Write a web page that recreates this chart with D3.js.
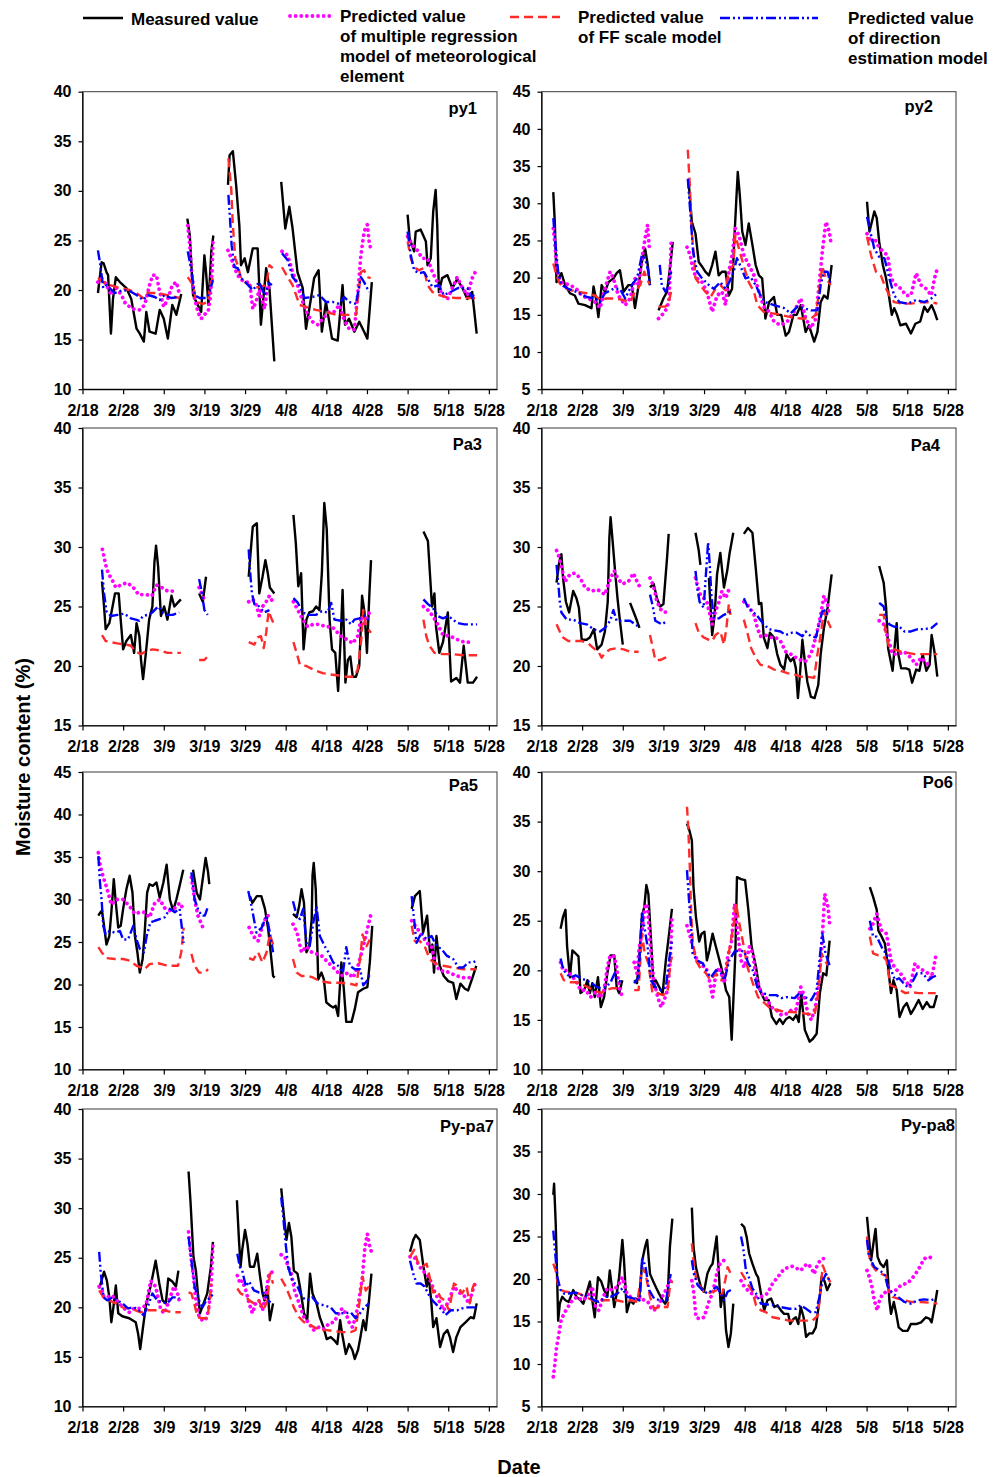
<!DOCTYPE html>
<html>
<head>
<meta charset="utf-8">
<title>Moisture content</title>
<script src="https://cdn.jsdelivr.net/npm/d3@7"></script>
<style>
  body { margin: 0; background: #fff; }
  svg text { font-family: Arial, "Liberation Sans", sans-serif; font-weight: bold; fill: #000; }
</style>
</head>
<body>
<div id="chart"></div>
<script>

// ---- data: [day after 2/18, moisture %], null = gap ----

const tickLabels = ["2/18", "2/28", "3/9", "3/19", "3/29", "4/8", "4/18", "4/28", "5/8", "5/18", "5/28"];
const panelNames = ["py1", "py2", "Pa3", "Pa4", "Pa5", "Po6", "Py-pa7", "Py-pa8"];
const yDomains = [[10, 40], [5, 45], [15, 40], [15, 40], [10, 45], [10, 40], [10, 40], [5, 40]];
const legendLabels = [
  ["Measured value"],
  ["Predicted value", "of multiple regression", "model of meteorological", "element"],
  ["Predicted value", "of FF scale model"],
  ["Predicted value", "of direction", "estimation model"]
];

const py1Measured = [[3.8,19.7],[4.7,22.8],[5.2,22.7],[5.9,21.8],[6.3,21.5],[7,15.6],[7.5,19.1],[8.2,21.3],[9.2,20.8],[10.8,20.2],[12,19.1],[13.3,16.1],[14.1,15.6],[15.1,14.8],[15.7,17.8],[16.5,15.8],[18,15.6],[19,18],[20,17.1],[21,15.1],[22.1,18.5],[23.1,17.5],[24.3,19.6], null, [25.8,27.2],[26.4,25.5],[27.2,19.5],[28,18.8],[29.2,17.8],[30,23.5],[30.4,21.8],[31,18.5],[31.7,23.9],[32.2,25.5], null, [35.8,30.6],[36.2,33.6],[37,34],[37.8,30.6],[38.6,26.5],[39,22.5],[39.9,23.2],[40.7,21.8],[41.9,24.2],[43.1,24.2],[43.9,16.5],[45.2,22.2],[46,20.2],[47.2,12.8], null, [48.9,30.9],[49.9,26.2],[50.9,28.4],[51.7,26.2],[52.9,21.8],[54.2,20.2],[55,16.1],[56.2,19.1],[57,21.2],[58.1,22],[58.9,15.8],[59.9,18.8],[61.4,15.1],[62.8,14.9],[64,20.5],[64.6,16.5],[65.6,17.1],[66.9,15.8],[68.1,16.8],[69.3,15.8],[70.1,15.1],[71.2,20.8], null, [80,27.6],[80.5,25.2],[81.6,23.9],[82,25.9],[83.2,26.1],[84.5,24.9],[84.9,22.5],[85.7,23.2],[86.3,27.9],[86.9,30.1],[87.3,26.5],[87.7,19.8],[88.5,21.2],[89.8,21.5],[91,20.2],[92.2,21.1],[93.5,20.2],[94.7,19.1],[95.9,19.8],[97,15.6]];
const py1Regression = [[3.8,20.8],[4.7,21.2],[5.9,20.5],[7.1,19.5],[8.3,20.2],[9.6,19.5],[10.6,18.6],[12.4,18.1],[14.1,18],[15.3,18.5],[16.5,20.5],[17.3,21.5],[18.2,21.5],[19,19.8],[20,18.3],[21,19.1],[22.1,20.5],[23.1,20.8],[23.9,19.5], null, [25.9,26.5],[26.4,24.5],[26.8,22],[27.6,19.1],[28.4,17.8],[29.2,17.1],[30.2,17.6],[30.9,17.8],[31.4,19.1],[31.9,22],[32.1,24.9], null, [35.8,24],[36.6,23.2],[37.4,22.2],[38.6,21.2],[39.9,20.8],[41.1,20.8],[41.9,18.1],[42.7,18.8],[43.5,20],[44.8,18.1],[45.6,20.5],[46,20], null, [49.1,23.9],[50.5,23.5],[51.7,21.8],[52.9,20.5],[54.2,18.8],[55.4,17.5],[56.6,16.8],[57.9,16.5],[59.1,17.1],[60.7,17.8],[61.9,17.8],[63.2,18.5],[64.4,17],[65.6,16.1],[66.9,16],[67.7,19.5],[68.5,23.5],[69.3,25.9],[70.1,26.6],[70.5,25],[70.9,24.2], null, [80,25.4],[81.2,24.5],[82.4,24],[83.6,23.2],[84.9,23.2],[86.1,21.8],[87.3,20.8],[88.5,19.5],[89.8,19.1],[91,20.2],[92.2,21.3],[93.5,20.2],[94.7,19.5],[95.9,21.2],[96.9,22]];
const py1FF = [[3.8,21.2],[5.1,20.8],[6.7,20.5],[9.2,20.2],[11.6,20],[13.3,19.7],[14.9,19.2],[15.7,19.7],[18.2,19.7],[20.6,19.5],[23.9,19.2], null, [25.9,21.3],[27.2,20.5],[28,18.8],[29.6,18.6],[30.9,18.8],[31.4,20.5],[32.1,21.2], null, [35.9,33.3],[36.6,30.2],[37,26.5],[37.6,23.2],[38.2,22.5],[39,21.2],[40.3,20.7],[41.9,20.2],[43.5,20.3],[45.2,20.5],[46,22.5],[46.8,22.2], null, [49.1,22.3],[50.5,21.3],[51.7,20.5],[53.4,18.5],[55,18.3],[57.4,18],[59.9,17.8],[62.4,17.5],[64.8,17.5],[67.3,17.5],[68.5,21.8],[69.3,22],[70.1,21.3],[70.9,21.2], null, [80,24.9],[80.8,23.2],[81.6,22.3],[82.8,22],[84,22.2],[84.9,20.5],[86.1,19.8],[87.7,19.5],[89.3,19.3],[91.8,19.2],[94.3,19.2],[97,19.2]];
const py1Direction = [[3.8,24],[4.4,22.5],[5.1,20.2],[5.9,20.5],[6.7,20.2],[7.9,19.7],[10,20],[11.6,19.9],[13.3,19.5],[14.9,19],[16.1,19.5],[17.8,19.3],[19,19],[20.2,19.5],[21.8,19.2],[23.9,19.3], null, [25.9,23.9],[26.8,22],[27.6,19.5],[28.8,19.2],[30.4,19.2],[31.3,19.8],[32.1,21], null, [35.9,29.6],[36.3,27.2],[36.7,24.5],[37.4,22.3],[38.2,22.2],[39,21.2],[40.3,20.7],[41.9,20],[43.5,20.8],[44.8,19.5],[46,20.7],[46.6,20.5], null, [49.1,23.7],[50.5,23],[51.7,21.3],[53.4,20.5],[54.6,19.2],[56.6,19.3],[58.3,19.5],[59.9,18.8],[61.5,18.8],[63.2,18.6],[64.4,19.3],[65.6,18.8],[67.3,18.6],[68.5,21.3],[69.3,20.8],[70.5,19.8], null, [80,25.9],[80.8,23.5],[81.6,22],[82.8,21.7],[84,21.8],[84.9,21.2],[86.1,20.3],[87.7,20.5],[88.9,19.5],[90.6,19.8],[92.4,20.2],[94.7,20.2],[95.9,19.2],[96.3,19.6]];

const py2Measured = [[2.9,31.5],[3.3,27.1],[3.7,19.4],[4.4,20.1],[4.9,20.6],[5.8,19],[7,17.9],[8.2,17.6],[9.1,16.5],[10.7,16.3],[12.3,15.9],[12.8,18.8],[13.4,17.2],[14,14.7],[14.8,19],[15.6,18.1],[16.5,19.4],[17.7,19.9],[18.5,20.6],[19.3,21],[20.2,18.1],[21.4,19],[22.2,19],[23,15.9],[23.9,19],[24.7,22.1],[25.5,23.9],[26.1,21.9],[26.7,19], null, [28.8,15.6],[30,17.2],[30.9,18.1],[31.7,21.7],[32.3,24.8], null, [36.2,32.9],[36.6,30.2],[37,27.5],[37.9,25.9],[38.7,22.1],[39.5,21.5],[40.3,20.8],[41.2,20.3],[42,21.7],[42.8,23.5],[43.6,20.3],[44.4,20.8],[45.3,20.8],[46.1,17.6],[46.9,18.5],[47.5,25.7],[48,31.1],[48.3,34.2],[48.8,31.1],[49.4,26.2],[50.2,24.4],[51,27.3],[51.9,24.4],[52.7,21.7],[53.5,20.3],[54.3,19.9],[55.1,14.5],[56,16.7],[57.2,17.4],[58,15],[59,15],[60.1,12.2],[60.9,12.7],[62,15],[62.8,15],[63.8,16.3],[65,12.7],[65.8,13.6],[67.1,11.4],[67.9,12.7],[68.7,16.7],[69.5,17.6],[70.4,17.2],[71.4,21.7], null, [80.1,30.2],[80.7,26.2],[81.2,27.3],[81.9,28.9],[82.5,28],[83.1,24.8],[84,21.7],[84.8,19.9],[85.6,17.2],[86.2,15],[86.8,15.9],[87.5,15],[88.3,13.6],[89.7,13.8],[90.9,12.5],[92,13.8],[93.2,14.1],[94.2,16.1],[95,15.4],[96,16.3],[96.7,15.4],[97.4,14.3]];
const py2Regression = [[2.9,26.6],[3.3,24.6],[3.7,21.7],[4.5,19.4],[5.8,19.2],[7,19],[8.6,18.5],[9.9,17.6],[11.5,17.2],[13.2,16.7],[14.4,15.9],[15.6,18.5],[16.9,20.8],[17.7,19.9],[18.9,17.6],[20.6,16.3],[21.8,17.2],[23,19.9],[23.9,19],[24.7,22.6],[25.5,25.3],[26.1,27.1],[26.6,23.5], null, [28.8,14.5],[30,15.2],[30.9,15.9],[31.4,17.2],[31.9,24.8], null, [35.8,24.1],[36.6,23],[37.4,20.8],[38.3,19.9],[39.5,19.4],[40.7,18.1],[42,15.4],[43.2,17.6],[44.4,18.1],[45.3,16.3],[46.1,20.8],[46.9,23],[47.7,26.6],[48.6,25.7],[49.8,23],[51,21.7],[52.3,20.3],[53.5,18.1],[54.7,16.1],[56,15.4],[57.2,14.1],[58.8,13.6],[60.5,14.1],[62.1,15.4],[63.8,17.2],[65,14.5],[66.3,13.2],[67.5,14.5],[68.3,19],[69.1,23.5],[70,27.5],[70.8,26.2],[71.2,24.8], null, [80.1,25.9],[81.1,24.8],[81.9,25.3],[82.7,24.4],[84,23.5],[85.2,23],[86,19.9],[87.2,19],[88.5,18.5],[89.7,17.6],[90.9,17.6],[92.2,20.6],[93.4,19],[94.7,18.5],[95.9,17.6],[96.7,19.9],[97.4,21.2]];
const py2FF = [[2.9,21.9],[3.7,20.3],[4.5,19.2],[6.2,18.5],[8.6,18.1],[11.1,17.9],[13.2,17.6],[14.4,17],[16,17.2],[17.7,17.2],[20.2,17],[21.8,16.7],[23,18.1],[24.3,19],[25.3,20.8],[25.9,19.9],[26.7,19], null, [28.8,16.1],[30.5,16.1],[31.3,16.7],[31.9,18.1], null, [36,37.2],[36.5,32.4],[36.9,26.6],[37.4,23.5],[37.9,19.9],[39.1,19],[40.3,18.1],[41.6,17.4],[42.8,18.5],[44,19],[45.3,18.3],[46.1,20.8],[47.2,21.7],[47.7,25.7],[48.6,23.9],[49.8,21.5],[51,19.4],[52.3,18.1],[53.1,16.3],[54.7,15.4],[56.8,15.2],[58.8,15],[61.3,14.7],[63.8,14.5],[66.3,14.5],[67.5,15],[68.3,18.1],[69.1,21.5],[70,19.9],[71.2,19], null, [80.1,25.5],[81.1,23],[82.3,20.8],[83.5,20.3],[84.4,19],[85.6,17.6],[86.8,16.7],[88.9,16.5],[90.9,16.5],[93.4,16.7],[95.9,16.7],[97.4,16.5]];
const py2Direction = [[2.9,28],[3.3,25.3],[4.1,20.8],[4.9,19],[6.6,18.5],[8.6,18.1],[11.1,17.4],[13.2,17.2],[14.4,16.7],[15.6,17.9],[17.7,18.5],[19.3,18.5],[20.6,17.2],[22.2,19],[23.5,19.9],[24.7,23],[25.5,22.6],[26.3,20.8],[26.7,19], null, [29.1,21.7],[29.6,19],[30.5,18.1],[31.3,19],[31.9,20.8], null, [36,33.3],[36.6,28.9],[37.3,23.5],[38.3,20.8],[39.5,19.9],[41.2,19],[42.4,18.5],[44,19.4],[45.3,18.5],[46.5,19.7],[47.3,20.8],[48.1,22.6],[49,21.5],[50.2,19.9],[51.4,20.1],[52.7,19],[53.9,17.6],[55.1,16.7],[57.2,16.3],[59.7,15.9],[61.3,15.2],[63,16.1],[64.6,15.9],[66.3,15.6],[67.9,15.6],[68.7,19],[69.5,20.8],[70.4,20.8],[71.2,19], null, [80.1,28.2],[80.9,26.2],[81.9,23.9],[83.1,22.8],[84.4,22.6],[85.6,19.9],[86.8,17.6],[88.1,16.7],[90.1,16.5],[92.2,17],[94.2,16.7],[95.9,17.2],[97.4,17.9]];

const pa3Measured = [[4.8,27.1],[5.3,25],[5.7,23.1],[6.6,23.6],[7.4,25],[8,26.1],[8.9,26.1],[9.4,23.9],[10,21.4],[10.8,22.1],[11.9,22.6],[12.7,21.1],[13.3,23.6],[14,22.5],[14.4,20.5],[14.9,18.9],[15.6,21.1],[16.4,23.9],[17.2,25],[17.7,28.7],[18.1,30.1],[18.6,28.4],[19.3,24.2],[20.1,25],[20.9,23.9],[21.9,25.9],[22.6,25],[23.4,25.3],[24.2,25.6], null, [28.7,26.1],[29.6,25.4],[30.4,27.5], null, [40.9,27.5],[41.5,30.1],[41.9,31.7],[42.9,32],[43.5,26.1],[44.3,27.5],[45,28.9],[45.6,27.8],[46.1,26.6],[47.2,26.1], null, [51.9,32.7],[52.5,30.3],[53.1,26.7],[53.8,27.8],[54.4,21.4],[55.1,23.9],[55.8,24.5],[56.7,24.6],[57.5,25],[58.3,24.7],[58.9,27.8],[59.5,33.7],[60.1,31.5],[60.8,23.9],[61.4,21.4],[62.2,21.1],[62.9,17.9],[63.6,22.8],[64,26.4],[64.7,18.6],[65.3,20.5],[65.9,20.8],[66.5,19.1],[67.3,19.1],[68.1,20],[68.8,25.9],[69.4,24.5],[70,21.1],[70.6,26.1],[71,28.9], null, [83.9,31.3],[85,30.5],[86,25],[86.6,26.1],[87,23.3],[87.8,21.1],[88.7,22],[89.9,24.5],[90.7,18.7],[92,19],[92.9,18.6],[93.8,21.7],[94.8,18.6],[96.1,18.6],[97.1,19.1]];
const pa3Regression = [[4.9,29.8],[5.3,29.2],[5.7,28.5],[6.3,27.8],[7.2,27.3],[8.2,26.6],[9.4,26.8],[10.8,27],[12.3,26.7],[13.8,26],[15.6,26],[17.1,25.9],[18.2,26.8],[19.5,26.6],[20.9,26.3],[22.2,26.3], null, [28.7,26.6],[29.6,25.9],[30.1,25.3], null, [40.9,25.4],[41.9,25.6],[42.7,25.2],[43.5,24.2],[44.3,25],[45.2,25.4],[46,25.9],[46.8,25.4], null, [51.9,25.4],[53,24.7],[54.2,23.9],[55.4,23.3],[56.7,23.5],[58.3,23.5],[59.9,23.3],[61.4,23.3],[62.8,22.8],[64,22.4],[65.3,22.2],[66.5,21.9],[67.7,22.5],[68.6,24.2],[69.4,23.6],[70.6,24.5], null, [83.9,25],[85,24.7],[86.2,24.2],[87.4,23.5],[88.7,22.6],[90.5,22.5],[92.4,22.2],[94,22],[96.1,22]];
const pa3FF = [[4.8,22.6],[5.7,22.1],[7,22],[8.6,21.9],[10.7,21.8],[11.9,21.7],[13.1,21.2],[14.4,21],[15.4,21.2],[17.2,21.4],[19.3,21.3],[20.9,21.1],[23,21.1],[24.2,21.1], null, [28.7,20.5],[30,20.5],[30.8,20.8], null, [40.9,22],[42.3,21.8],[43.1,22.4],[43.9,22.5],[44.6,21.5],[45.2,22.8],[45.8,24.6],[46.6,23.9],[47,23.6], null, [51.9,22],[52.7,21.1],[53.5,20.1],[55.1,20],[56.2,19.8],[57.5,19.6],[59.1,19.4],[60.8,19.3],[63.2,19.2],[64.9,19.1],[66.9,19.1],[67.7,19.7],[68.6,22.2],[69.1,24.7],[69.8,23.3],[71,22.8], null, [83.9,23.9],[84.6,22.5],[85.4,21.7],[86.6,21.1],[88.7,21],[91.1,21],[93.6,20.9],[97.1,20.9]];
const pa3Direction = [[4.8,28.1],[5.3,26.1],[5.9,24.6],[7,24.2],[8.6,24.3],[10.3,24.4],[11.9,24],[13.1,23.9],[14,23.8],[14.9,24.2],[16,24.3],[17.2,24.5],[18.6,25],[19.7,24.5],[20.9,24.3],[22.2,24.3],[23.8,24.5], null, [28.7,27.3],[29.3,26.3],[30,24.7],[30.8,24.3], null, [40.9,29.8],[41.2,28.1],[41.7,26.1],[42.3,25.2],[43.5,25],[44.7,24.5],[46,24.7], null, [51.9,25.7],[53,25.3],[54.2,24.5],[55.4,24.3],[57.5,24.3],[58.9,24.6],[60.3,24.5],[61.2,25.3],[62,23.9],[63.6,23.8],[64.9,23.9],[66.1,23.5],[66.9,23.9],[68.1,24],[69.4,24.2],[70.6,23.8], null, [83.9,25.6],[85,25.2],[86.2,24.9],[87.4,24.2],[88.7,24],[90.1,24.2],[91.1,23.9],[92.4,23.6],[94,23.5],[96.1,23.5],[97.1,23.5]];

const pa4Measured = [[3.7,27],[4.4,28.8],[4.9,29.4],[5.3,27.4],[6,25.4],[6.8,24.5],[7.8,26.3],[8.6,25.7],[9.2,24.9],[9.9,22.2],[11.1,22.2],[11.9,22.4],[12.9,23.1],[13.7,21.4],[14.8,21.8],[15.6,22.9],[16.3,25.4],[16.7,30.8],[17,32.5],[17.5,30.5],[18.1,28],[18.7,25.7],[19.3,23.8],[20,21.8], null, [21.8,25.3],[22.6,24.6],[23.5,23.8],[24.1,23.2], null, [26.7,26.6],[27.6,26.9],[28.4,25.7],[29.2,25],[30,25.2],[30.9,29.1],[31.3,31.1], null, [37.9,31.2],[38.7,29.7],[39.1,28.5], null, [41.2,27.4],[41.6,24.9],[42,22.6],[42.6,24.3],[43.2,27.7],[44,29.5],[44.9,26.6],[45.7,28],[46.3,29.5],[47.2,31.2], null, [49.8,31.1],[50.8,31.6],[51.9,31.2],[52.7,28.3],[53.5,25.2],[54.1,25.3],[54.7,22.4],[55.6,21.5],[56.2,22.8],[57.2,22.4],[58,21],[58.8,20.1],[59.7,19.7],[60.3,21],[61.3,20.4],[62,20.7],[62.6,19.8],[63.1,17.3],[63.6,19.3],[64.2,22.2],[64.8,20.4],[65.4,18.7],[66.3,17.4],[67.2,17.3],[68.1,18.4],[68.7,21],[69.5,23.2],[70.4,24.9],[71.4,27.7], null, [83.1,28.4],[84.2,27],[84.8,24.9],[85.3,21.5],[86.4,19.6],[86.8,21.2],[87.4,23.6],[87.8,21],[88.5,19.8],[89.7,19.8],[90.5,19.7],[91.2,18.6],[92.2,19.7],[93,19.6],[93.8,21],[94.7,19.6],[95.5,20.1],[96,22.6],[96.7,21.2],[97.4,19.1]];
const pa4Regression = [[3.7,29.7],[4.4,29.1],[4.9,28.3],[5.8,27.1],[7,27.7],[8.2,27.8],[9.5,27.4],[10.7,26.6],[12.3,26.3],[13.9,26.4],[15.6,26],[16.9,27.3],[17.9,28],[18.7,27.4],[19.9,26.9],[21.4,27.1],[22.6,27.8],[23.5,27.1],[24.1,26.7], null, [26.7,27.4],[27.6,26.7],[28.4,25.4],[29.6,24.6],[30.9,24.5], null, [37.9,27.4],[38.5,26.6],[39.1,26],[40.7,25.4],[42,23.5],[42.8,24.6],[43.6,25.3],[44.4,26.3],[45.3,25.7],[46.1,26.4],[46.7,26.4], null, [49.8,25.4],[51,25],[52.3,24.3],[53.1,23.2],[53.9,22.5],[55.1,22.6],[56.4,22.4],[57.6,22.4],[58.8,22.1],[60.1,21.2],[61.3,21],[62.6,20.7],[63.8,20.5],[65,20.4],[66.3,21],[67.5,22.4],[68.7,24.3],[69.5,25.9],[70.4,25.2],[70.8,24.3], null, [83.1,23.8],[84.2,23.5],[85.2,22.4],[86.4,21],[87.7,21],[89.3,21.2],[90.9,20.7],[92.2,20.1],[93.4,20.7],[95.5,20]];
const pa4FF = [[3.7,23.5],[4.5,22.9],[5.3,22.4],[6.6,22.1],[8.2,22.1],[9.9,22.1],[11.5,21.9],[12.8,21.5],[14,21.2],[14.8,20.7],[15.6,21.1],[16.9,21.4],[18.5,21.5],[20.2,21.4],[21.8,21.2],[23.9,21.2], null, [26.7,22.6],[27.4,21.5],[28,20.5],[29.2,20.5],[30.5,20.7],[31,20.8], null, [37.9,23.6],[38.7,22.8],[39.9,22.4],[41.2,22.2],[42,22.1],[42.8,22.6],[44,22.9],[44.9,21.8],[45.5,23.2],[46.1,25.2],[46.5,24.3], null, [49.8,23.9],[50.8,22.6],[51.6,21.5],[52.7,20.7],[53.9,20.1],[55.6,20],[57.2,19.7],[58.8,19.6],[60.5,19.4],[62.1,19.3],[63.8,19.1],[65.4,19.1],[67.1,19],[67.9,21],[68.7,22.6],[69.5,24.6],[70.4,23.8],[71.2,23.2], null, [83.1,24.3],[84.2,24.3],[84.8,22.6],[85.6,21.5],[86.8,21.4],[88.5,21.2],[90.1,21.1],[91.8,21],[94.2,21],[97.4,21]];
const pa4Direction = [[3.7,28.5],[4.1,27.1],[4.5,25.4],[4.9,24.5],[6.2,23.9],[7.8,23.9],[9.5,23.6],[11.1,23.5],[12.8,23.1],[14.4,22.9],[15.6,23.2],[16.9,23.8],[17.7,24.7],[18.5,23.8],[20.2,23.8],[21.8,23.8],[23.9,23.3], null, [26.7,26],[27.4,25],[28,23.8],[29.6,23.5],[31,23.8], null, [37.9,28],[38.3,26.6],[38.9,25.4],[39.9,24.9],[41,30.4],[41.4,28.5],[41.8,26],[42.4,24],[43.6,24],[44.9,24.3],[46.1,24.5],[46.7,24.6], null, [49.8,25.7],[50.8,24.9],[51.9,24.6],[53.1,24.2],[54.7,23.5],[56,23.1],[57.2,23],[58.8,22.9],[60.1,22.6],[61.7,22.8],[62.8,22.8],[64.2,22.5],[65,22.9],[66.3,22.5],[67.5,22.4],[68.3,23.5],[69.1,24.6],[69.9,24.7],[70.4,24.3], null, [83.1,25.3],[84.2,25],[84.8,24],[85.6,23.5],[86.8,23.3],[88.1,23.3],[89.3,22.9],[90.9,22.9],[92.6,23.1],[94.2,23.1],[96,23.2],[97.4,23.6]];

const pa5Measured = [[3.9,28.1],[4.4,28.5],[4.8,28.7],[5.3,26.9],[5.9,24.7],[6.6,25.7],[7.1,28.5],[7.7,32.4],[8.2,29.6],[8.8,26.7],[9.4,26.9],[10,28.9],[10.8,31.2],[11.6,32.8],[12.3,30.8],[12.9,25.7],[13.5,23.8],[14.1,21.4],[14.8,23],[15.3,26.1],[15.9,30.8],[16.5,31.8],[17.3,31.6],[18.2,32],[19,30.2],[19.9,32],[20.7,34.1],[21.5,30],[22.3,28.7],[23.1,30],[23.9,31.6],[24.8,33.5], null, [27.2,33.5],[28.1,30.8],[28.9,30],[29.7,32.8],[30.3,34.9],[30.9,33.2],[31.2,31.8], null, [41.2,30.4],[41.8,29.6],[42.9,30.4],[44,30.4],[44.9,28.9],[45.7,26.5],[46.3,23.8],[46.9,21],[47.3,20.8], null, [51.8,28.3],[52.7,27.9],[53.3,29.2],[53.9,31.2],[54.5,29.6],[55.1,23.8],[55.8,24.5],[56.4,27.7],[56.6,32.8],[56.9,34.3],[57.4,31.2],[58,20.6],[58.8,21.4],[59.4,20.6],[60,17.9],[61,17.5],[61.7,17.3],[62.3,17.5],[62.9,16.3],[63.7,22.6],[64.3,19.5],[64.9,15.6],[66.2,15.6],[67,17.1],[67.8,19.1],[69.1,19.5],[70.1,19.7],[70.7,22.6],[71.3,26.9], null, [81,28.9],[81.8,30.4],[83,31],[83.8,26.1],[84.8,28.1],[85.5,23.8],[86.1,24.7],[86.5,21.4],[87.1,25.7],[87.9,22.2],[88.9,21],[90,20.4],[91.2,20.2],[92,18.3],[93,20.1],[94.1,19.5],[94.9,19.3],[96.1,21],[96.9,22.2]];
const pa5Regression = [[3.9,35.5],[4.4,33.9],[5.1,32.6],[5.7,31.8],[6.3,30.8],[7.1,29.4],[8.3,30],[10,30],[11.6,29.2],[12.9,28.3],[14.1,28.5],[15.3,28.5],[16.5,27.9],[17.8,29.6],[19,30],[20.2,29],[21.5,28.7],[22.7,29],[23.9,29.6],[24.8,28.9], null, [26.8,32.6],[27.6,30],[28.4,28.1],[29.3,27.1],[29.9,26.3], null, [41,26.7],[42,25.7],[43.2,25.1],[44.3,26.9],[45.3,28.1],[46.5,28.1], null, [51.8,27.1],[52.8,26.1],[53.9,23.8],[55.1,24.5],[56.4,23.8],[57.6,23.6],[58.8,23.4],[60,22.8],[61.3,22.2],[62.9,21.4],[64.1,21],[65.3,21.4],[66.6,20.8],[67.8,22.2],[69.1,24.5],[69.9,26.1],[70.9,28.1], null, [81,27.5],[82.2,26.7],[83.4,25.9],[84.7,24.9],[85.9,24.5],[86.7,22.6],[87.9,21.6],[89.2,21.6],[91.2,21.2],[93.3,20.8],[95.3,20.8]];
const pa5FF = [[3.9,24.4],[4.7,23.8],[5.9,23.1],[8,23],[10,23],[11.6,22.8],[13.3,22.2],[14.5,22],[15.3,21.8],[16.5,22.4],[18.6,22.5],[20.2,22.3],[21.8,22.2],[23.5,22.2],[24.3,23.8],[24.9,26.7], null, [26.8,23.6],[27.6,22.2],[28.7,21.4],[30.1,21.4],[30.9,21.8], null, [41,23.1],[42,22.9],[43.2,23.8],[44.3,22.6],[45.3,23.8],[46.1,25.9],[46.9,24.7], null, [51.8,23],[52.7,21.4],[53.9,21],[55.5,21],[56.8,20.8],[58.4,20.4],[60.9,20.2],[63.3,20.2],[65.8,20.1],[67.4,19.9],[68.3,23],[68.9,25.9],[69.9,24.5],[70.7,25.3], null, [81,26.9],[81.8,25.1],[83,25.1],[84.2,24.5],[85.1,23.4],[85.9,22.8],[87.1,22.4],[88.8,22.2],[91.2,22],[93.7,21.8],[96.9,21.8]];
const pa5Direction = [[3.9,35.1],[4.3,32],[4.7,30],[5.1,26.9],[5.7,25.9],[6.7,26.3],[7.9,26.1],[9.2,26.3],[10,25.3],[11.2,25.3],[12.5,26.9],[13.3,25.3],[14.1,24.2],[15.1,23.8],[15.8,25.7],[16.7,27.3],[17.8,27.5],[19,27.7],[20.2,27.9],[21.5,28.9],[22.7,28.5],[23.9,28.9],[24.9,24.9], null, [26.8,33.2],[27.6,30],[28.4,28.9],[29.3,28.1],[30.1,28.1],[30.9,29.2], null, [40.8,31],[41.6,29.2],[42.8,26.1],[44.1,26.7],[45.3,28.1],[46.1,26.1],[46.9,23.8], null, [51.8,29.8],[52.7,28.1],[53.5,27.7],[54.3,28.9],[55.1,24.9],[55.9,24.5],[56.8,27.3],[57.6,29.2],[58.4,25.7],[59.6,24.5],[60.5,23.8],[61.7,22.6],[62.9,22.2],[64.1,21.4],[64.9,24.4],[65.8,22.2],[67,21.8],[68.3,21.8],[69.1,19.9],[70.3,20.6],[70.7,21.4], null, [81,30.4],[81.5,28.1],[82.2,24.9],[83.4,26.1],[84.7,25.3],[85.9,25.7],[87.1,24.5],[88.3,24.2],[89.6,23.4],[91.2,23],[92.5,22],[93.7,22],[94.9,22.6],[96.1,22.6],[96.9,22.8]];

const po6Measured = [[4.7,24.2],[5.3,25.4],[5.9,26.1],[6.3,22.4],[7,19.3],[7.6,22],[8.4,21.7],[9.1,21.4],[9.6,17.7],[10.5,18],[11.3,19],[11.9,17.7],[12.5,18.7],[13.1,17.3],[13.9,19.3],[14.6,16.3],[15.4,17.3],[16.2,19.7],[17,21.5],[17.9,21.5],[18.5,18.3],[19.1,17.7],[19.9,19], null, [22.8,19],[23.5,18.7],[24,21],[24.7,25.4],[25.3,26.4],[25.8,28.6],[26.3,27.7],[26.9,23.4],[27.6,18.3],[28.1,19],[29,18.3],[29.8,17.7],[30.6,21],[31.4,23.7],[32.1,26.2], null, [35.8,34.8],[36.4,34.1],[37,33.1],[37.4,28.4],[38,25.4],[38.8,22.9],[39.4,23.7],[40.1,23.9],[40.7,21],[41.3,22],[42.1,23.7],[42.9,22.4],[43.8,21],[44.6,19.7],[45.4,18],[46.2,17.3],[46.8,13],[47.7,21.7],[48.1,29.4],[49.1,29.2],[50.1,29.1],[50.9,26.1],[51.7,22.4],[52.8,20.3],[53.7,18],[54.9,17],[55.9,17],[56.7,15.3],[57.8,14.6],[58.6,15.1],[59.4,14.6],[60.2,15.1],[61,15.3],[61.9,15],[62.7,15.5],[63.3,14.8],[63.9,17.7],[64.8,14],[66,12.8],[66.8,13.1],[67.7,13.6],[68.5,17.7],[69.3,19.7],[70.1,19.5],[70.9,23], null, [80.8,28.4],[81.6,27.4],[82.5,26.1],[82.9,24],[83.7,23.4],[84.5,22.7],[85.3,20.3],[86,17.7],[86.6,19],[87.4,18],[88.1,15.3],[89.1,16.3],[89.9,16.7],[90.9,15.6],[91.9,16.3],[92.8,17],[93.8,16.1],[94.8,16.8],[95.6,16.3],[96.5,16.3],[97.3,17.5]];
const po6Regression = [[4.7,20.8],[5.3,20],[6.2,20],[7.2,19.5],[8.4,19],[9.6,18],[10.9,18],[12.1,17.3],[13.3,17.8],[14.4,17.2],[15.4,18],[16.2,20.3],[16.9,21.5],[17.9,21.4],[18.5,20.3],[19.1,18.3],[19.9,17.3], null, [22.8,20.8],[23.5,19.7],[24,22.2],[24.7,23.7],[25.5,26.7],[26.1,26.4],[26.7,23],[27.6,19],[28.6,17.3],[29.4,16.3],[30.2,17],[31,18],[31.7,21],[32.1,25.4], null, [35.8,24.5],[36.6,23.4],[37.4,22],[38.3,21],[39.3,20.5],[40.5,20.3],[41.3,19],[42.1,17.3],[42.9,19.7],[43.8,20.3],[45,18.7],[45.8,21.4],[46.7,22.7],[47.5,26.7],[48.3,23.7],[49.1,21],[49.9,20.3],[51.2,22.4],[52,21.7],[52.8,19.3],[54.1,17.7],[55.3,17.2],[56.5,16.3],[57.8,16],[59,15.5],[60.2,15.6],[61.5,16],[62.7,16.1],[63.8,18.3],[64.4,17.7],[65.6,15.6],[66.4,15],[67.4,16.3],[68.1,18.3],[68.9,22],[69.7,27.7],[70.5,26.4],[70.9,24.7], null, [80.8,24.2],[81.6,24.7],[82.5,25.7],[83.7,24],[84.9,23.7],[86,21],[87,20.2],[88.3,19.7],[89.5,19],[90.7,18.3],[91.9,20.7],[92.9,20.2],[94,20],[95.1,19.7],[95.9,19.2],[96.5,20.3],[97,21.4]];
const po6FF = [[4.7,19.7],[5.5,19],[6.7,18.8],[8.4,18.8],[9.6,18.7],[11.3,18.3],[12.9,18],[14.6,17.7],[15.8,18],[17.4,18.2],[19.9,18.2], null, [22.8,18],[23.9,18],[24.7,23.7],[25.4,21.7],[26.3,20.7],[27.3,17.7],[28.6,17.7],[29.8,17.5],[31,17.7],[31.7,20.7],[32.1,21.4], null, [35.8,36.5],[36.1,34.5],[36.5,30.4],[36.8,26.1],[37.2,23],[38,21],[39.1,20.2],[40.5,19.7],[41.6,19],[42.9,19.7],[44.2,19],[45.4,19.7],[46.2,22],[47.3,24.7],[47.9,26.7],[48.7,24.7],[49.5,23],[50.7,20.3],[52,18.7],[53.3,17.3],[54.9,16.7],[56.5,16.1],[58.2,16],[59.8,15.8],[61.9,15.8],[63.9,15.7],[65.6,15.6],[67.2,15.5],[68.1,17.7],[68.9,21.7],[69.7,21],[70.5,20.5], null, [80.8,23.4],[81.6,21.7],[82.9,21.5],[84.1,21.4],[84.9,21],[85.8,18.5],[87,18.3],[88.3,18],[89.5,17.7],[91.1,17.8],[92.8,17.7],[94.8,17.7],[97,17.7]];
const po6Direction = [[4.7,21.2],[5.1,20.5],[5.9,19.7],[7.2,19.3],[8.4,19.5],[9.6,19.2],[10.9,19],[12.1,18.8],[13.6,18.3],[14.7,18.2],[15.8,18.3],[17,18.8],[18,19.7],[18.7,19],[19.9,18.8], null, [22.8,18.7],[23.9,19.3],[24.7,25.7],[25.3,24.4],[26.1,22.4],[26.9,19],[28.1,18.3],[29.4,18],[30.6,18.3],[31.4,21],[32.1,23], null, [35.8,30.1],[36.3,27.1],[36.8,24.4],[37.2,21.7],[38.3,21],[39.7,20.7],[40.9,19.7],[41.7,19.3],[42.9,20],[44.2,19.7],[45,19],[46.2,21],[47.5,21.9],[48.7,22],[49.9,21.9],[50.9,20.7],[52,20],[53.1,18.3],[54.5,17.7],[56.1,17.5],[57.8,17.5],[59,17.2],[60.2,17.3],[62.3,17.2],[63.5,17.7],[64.8,17.3],[66.4,17],[67.7,18],[68.5,21.4],[69.1,23.7],[69.9,21.7],[70.9,20.5], null, [80.8,25],[81.6,23.4],[82.5,23.4],[83.3,22.7],[84.1,22],[84.9,21.7],[85.8,20.3],[87,19],[88,19.2],[89.1,18.7],[90.1,18.3],[91.1,18.7],[92.4,19.7],[93.8,19.7],[95.2,19],[96.2,19.3],[97.3,19.5]];

const pa7Measured = [[4.1,21.9],[4.7,22.7],[5.3,23.6],[6,22.7],[6.6,21],[7.1,18.5],[7.6,20],[8.2,22.2],[8.8,19.4],[9.8,19.1],[11.5,18.9],[13.1,18.5],[13.7,17.3],[14.2,15.8],[14.8,17.7],[15.6,20.2],[16.8,22.2],[18,24.7],[18.9,22.4],[19.7,20.7],[20.5,20.4],[21.1,22.9],[22.1,22.6],[23,22.1],[23.6,23.7], null, [26.1,33.7],[26.6,30.5],[27.3,25.1],[27.9,23.7],[28.4,21.4],[28.9,19.4],[29.8,20.4],[30.7,21.4],[31.6,24.1],[32.1,26.6], null, [38,30.8],[38.5,26.8],[38.9,24.1],[39.3,25.8],[40,27.8],[40.6,26.4],[41.2,24.1],[42.2,24.1],[43,25.4],[43.7,23.1],[44.3,21.4],[44.8,20.7],[45.5,22.1],[46.1,18.7],[46.9,20.4], null, [48.9,32],[49.6,29.1],[50.2,26.8],[50.8,28.5],[51.4,27.1],[52,23.7],[52.9,23.4],[53.5,22.1],[54.5,19.4],[55.3,18.7],[56,23.4],[56.6,21.4],[57.6,20.4],[58.4,19],[59.3,18],[60.1,16.8],[61.1,17],[61.9,16.7],[62.7,16.3],[63.4,18.7],[63.9,17.3],[64.8,15.3],[65.6,16.3],[66.4,15.7],[67,14.8],[67.8,15.7],[68.4,17],[69.1,18.7],[69.7,17.7],[70.5,20.7],[71.1,23.4], null, [80.6,25.6],[81.4,26.8],[82,27.3],[83,26.8],[83.9,24.1],[84.7,22.1],[85.2,23.1],[85.8,20.7],[86.3,18],[87.1,18.9],[88,16],[88.9,17.3],[89.8,17.7],[90.4,17],[91.2,15.5],[92,17],[93,18],[94.3,18.5],[95.5,19],[96.3,18.9],[97,20.4]];
const pa7Regression = [[4.1,22.1],[4.7,21.9],[5.3,21],[6.1,21],[7,21.2],[7.8,21],[8.8,20.5],[10.2,19.9],[11.5,19.5],[12.7,19.9],[14.3,19.9],[15.6,20.2],[16.8,22.7],[18,22.1],[19.3,19.7],[20.2,19.4],[21.3,20.7],[22.5,22.1],[23.4,21.4],[23.8,20.7], null, [26.1,27.6],[26.6,25.4],[27.3,23.1],[27.9,20.7],[28.7,19],[29.5,18.7],[30.3,18.7],[31,19.7],[31.6,21.7],[32.1,26.4], null, [38.1,23.2],[38.8,22.4],[39.3,22.7],[40.2,21.7],[41,20.4],[41.8,19.4],[42.6,20.4],[43.4,20.7],[44.3,19.7],[45.1,21.4],[45.9,23.4],[46.9,23.6], null, [48.9,25.3],[49.8,25.1],[50.6,24.1],[51.4,23.4],[52.2,21.7],[53.3,20.4],[54.5,19],[55.7,18.4],[56.8,17.7],[58.2,18],[59.4,17.8],[60.7,18.4],[61.9,18.5],[63.1,19.4],[63.9,19.9],[64.8,19.4],[65.6,18.5],[66.4,18],[67.2,19],[68,20.7],[68.9,23.1],[69.5,26.1],[70.1,27.4],[70.7,26.1],[71.1,25.6], null, [80.6,25.1],[81.6,25.1],[82.6,24.4],[83.6,23.7],[84.7,23.4],[85.7,22.6],[86.5,21.7],[87.7,20.7],[88.9,19.7],[90.2,20.7],[91.4,22.1],[92.6,21.5],[93.9,21.2],[95.1,20.4],[96.3,22.1],[97,22.7]];
const pa7FF = [[4.1,21.7],[5.3,20.9],[6.6,20.7],[8.2,20.4],[9.8,20],[11.5,19.9],[13.1,19.7],[14.3,19.5],[16,19.7],[18,19.7],[20.1,19.7],[22.1,19.5],[24.2,19.5], null, [26.1,21.5],[26.8,21.4],[27.5,20.4],[28.3,19],[29.5,18.9],[30.7,18.9],[31.1,20],[31.7,22.4], null, [38.1,21.9],[38.9,21.4],[39.9,21.2],[41,20.7],[42.2,20.4],[43.4,20.7],[44.5,19.7],[45.5,20.7],[46.1,23.4],[46.9,22.4], null, [48.9,22.9],[50,22.1],[51.1,21],[52,20],[53.3,19],[54.5,18.5],[55.7,18.3],[57,18],[58.6,17.7],[60.2,17.7],[61.9,17.6],[63.9,17.5],[66,17.5],[67.2,17.7],[68,20],[68.9,23.1],[69.7,21.7],[70.5,22.1], null, [80.6,25.1],[81.6,25.8],[82.6,24.4],[83.6,24.1],[84.7,24.4],[85.5,22.9],[86.3,21.5],[87.3,21.7],[88.1,21],[89.1,20.7],[90.2,19.7],[91.4,22.4],[92.4,22.1],[93.4,21.4],[94.5,22.1],[95.3,20.4],[96.1,22.1],[97,22.7]];
const pa7Direction = [[4.1,25.6],[4.5,23.4],[5.2,21],[6.1,20.7],[7.4,21],[8.6,20.7],[9.8,20.4],[11.2,19.9],[12.7,20],[13.9,19.7],[15,19.2],[16,20],[17.2,21.4],[18.4,20.7],[19.7,20.5],[20.9,20.4],[22.1,21],[23.4,21],[23.8,20.9], null, [26.1,27.1],[26.8,24.7],[27.6,22.1],[28.7,20.7],[29.5,20],[30.5,20.7],[31.6,21],[32.1,21.4], null, [38.1,25.4],[38.7,24.1],[39.3,23.7],[40.2,22.1],[41,22.6],[42.2,21.7],[43.4,21.5],[44.7,21.4],[45.5,20.7],[46.3,20.5], null, [48.9,31.1],[49.4,29.1],[50,26.4],[50.6,24.1],[51.6,22.7],[52.9,22.1],[54.1,21],[55.3,20.7],[56.6,21],[57.8,20.4],[59.4,20.2],[61.1,20],[62.3,19.4],[63.5,19.4],[64.8,19.4],[66,19.5],[67.2,18.9],[68.3,19.4],[69.3,20],[70.5,20.4], null, [80.6,24.7],[81.4,23.4],[82.2,22.4],[83.2,22.4],[84.2,22.1],[85,21.4],[86.1,20.7],[87.3,20.2],[88.5,19.7],[89.3,19.2],[90.6,19.7],[92.2,19.7],[93.4,19.9],[94.7,20],[95.9,20],[97,20]];

const pa8Measured = [[2.9,29.9],[3.1,31.2],[3.5,26.5],[3.9,19.1],[4.1,15.1],[4.5,17.1],[5.1,17.9],[5.9,17.5],[6.7,17.3],[7.8,18.7],[8.6,17.9],[9.6,17.5],[10.3,17.1],[11.3,18.7],[11.9,19.7],[12.5,17.5],[13.1,15.5],[13.9,20.2],[14.7,19.7],[15.4,18.7],[16.2,17.9],[16.8,21],[17.3,19.1],[17.9,16.7],[18.5,18.3],[19.1,20.2],[19.9,24.6],[20.3,22.2],[21,16.1],[21.8,17.5],[22.6,17.1],[23.2,17.7],[24,17.5],[24.8,22.2],[25.5,23.8],[26,24.6],[26.7,20.6],[27.5,19.7],[28.1,19.1],[28.9,18.3],[29.8,17.5],[30.4,17.1],[31,17.5],[31.6,23.8],[32.2,27.1], null, [37,28.4],[37.4,23.8],[38,21.4],[38.6,20.2],[39.2,19.1],[40,18.5],[40.8,20.6],[41.5,21.4],[42.1,21.8],[42.6,23.4],[43.1,25],[43.7,20.2],[44.1,16.7],[44.8,18.7],[45.4,14],[46,12],[46.6,13.6],[47.2,17.1], null, [49.1,26.5],[49.9,26.1],[50.5,24.9],[51.1,23],[51.9,21.8],[52.8,20.6],[53.3,20.2],[54,18.3],[54.8,16.3],[55.6,17.5],[56.5,17.7],[57.3,16.7],[58.1,16.9],[58.9,16.3],[59.7,15.9],[60.7,15.9],[61.2,14.7],[62,15.3],[62.6,15.5],[63.2,14.7],[63.8,16.7],[64.5,15.5],[65.1,13.2],[65.9,13.6],[66.7,13.6],[67.5,14.3],[68.4,17.5],[68.9,20.2],[69.6,19.8],[70.3,18.7],[71.1,19.5], null, [80.1,27.3],[80.7,24.2],[81.1,22.2],[81.8,24.6],[82.2,25.9],[82.7,22.6],[83.4,21.8],[84.2,21.4],[85,22.2],[85.6,17.5],[86,15.9],[86.7,17.3],[87.3,15.9],[87.9,14.3],[88.9,13.9],[90.1,13.9],[90.9,14.7],[92.2,14.7],[93.4,14.9],[94.6,15.5],[95.5,15.3],[96,14.9],[96.7,16.7],[97.4,18.7]];
const pa8Regression = [[2.9,8.5],[3.3,10],[3.7,12],[4.3,13.6],[4.8,15.1],[5.5,15.9],[6.5,16.7],[7.6,17.5],[8.8,17.9],[10,17.5],[11.3,17.9],[12.5,19.1],[13.3,16.7],[14.1,16.3],[15.2,17.9],[16.2,18.9],[17.4,18.7],[18.7,19.1],[19.9,20.2],[21,18.3],[21.9,17.9],[23.2,17.5],[24.4,17.9],[25.2,17.5],[26.2,17.3],[27.3,16.3],[28.5,16.5],[29.7,17.9],[30.6,18.7],[31.6,19.7],[32.2,20], null, [37,19.8],[37.5,18.3],[38,15.5],[39,15.3],[40,15.5],[41.3,17.5],[42.1,18.3],[43.1,20.6],[43.9,21.8],[44.9,22.2],[45.8,22.4], null, [49.1,19.8],[49.9,19.1],[50.7,18.7],[51.7,18.3],[52.8,17.9],[54,17.9],[55.6,18.3],[56.9,19.5],[58.1,20.2],[59.7,21.2],[61.8,21.5],[63.8,21],[65.3,21.8],[66.3,21.4],[67.1,20.6],[68,21.8],[69,22.4],[70,22.4], null, [80.1,21],[80.7,20.2],[81.3,19.1],[81.9,17.5],[82.6,16.3],[83.2,17.5],[84,18.3],[85,18.5],[86,18.5],[87.3,18.7],[88.5,19.3],[90.1,19.5],[91.4,20.2],[92.6,21],[94.2,22.4],[95.5,22.6],[96.7,22.2]];
const pa8FF = [[2.9,21.8],[3.5,21],[4,19.5],[4.8,18.7],[5.9,18.5],[7.6,18.4],[9.2,18.3],[10.8,17.9],[12.5,17.5],[13.7,17.3],[15.2,17.5],[16.9,17.5],[18.5,17.5],[20.3,17.3],[21.9,17.5],[23.6,17.3],[24.8,21.4],[25.6,20.6],[26.7,17.9],[27.7,16.5],[28.9,16.7],[30.2,16.7],[31,16.7],[31.6,19.1],[32.2,19.8], null, [37,24.2],[37.4,22.2],[38,20.2],[38.8,19.3],[39.9,18.5],[40.8,18.3],[42.1,18.5],[43.2,18.7],[44.4,18.1],[45.2,19.8],[45.8,21.4],[46.6,20.6], null, [49.1,20.8],[49.9,20.2],[50.9,19.3],[51.9,18.5],[52.8,16.9],[54,16.3],[55.2,16.1],[56.9,15.5],[58.9,15.3],[61,15.1],[63,15.1],[65.1,15.1],[66.7,15.1],[68,15.7],[68.6,18.3],[69.2,21.6],[70,20.6],[71.1,19.6], null, [80.1,25],[80.5,23],[81.1,21.8],[82.3,21],[83.6,20.6],[84.8,20.4],[85.6,18.3],[86.4,17.9],[87.7,17.7],[89.3,17.5],[90.9,17.3],[93.4,17.3],[95.9,17.2],[97.4,17.1]];
const pa8Direction = [[2.9,25.7],[3.3,23.4],[3.9,20.2],[4.7,18.7],[5.5,18.3],[6.7,18.3],[8.4,18.4],[10,18.1],[11.7,17.9],[12.9,17.5],[14.1,17.3],[15.8,17.9],[17,17.9],[18.7,18.3],[19.9,18.9],[21.1,17.9],[22.8,17.7],[24.2,17.5],[24.8,22.6],[25.6,21.4],[26.5,18.7],[27.7,17.7],[29.3,17.5],[30.6,17.3],[31.2,19.1],[31.8,20.6], null, [37,22.2],[37.5,20.6],[38.4,19.3],[39.6,18.7],[40.8,18.3],[42.1,18.7],[43.1,19.1],[44.1,18.3],[44.9,17.5],[45.8,18.5],[46.6,18.7], null, [49.1,25],[49.6,23.8],[50.3,21],[50.9,20.4],[51.9,18.9],[52.8,18.3],[54,17.1],[55.6,17],[57.3,16.9],[58.9,16.7],[61,16.5],[62.6,16.5],[63.8,16.9],[65.1,16.5],[66.3,16.1],[67.5,16.1],[68.4,17.9],[69.2,19.8],[70,20.6],[71.1,19.6], null, [80.1,24.6],[80.5,23],[81.1,22.2],[81.9,21.4],[83.2,21],[84.4,20.6],[85.2,19.1],[86.4,18.3],[87.7,17.9],[89.3,17.3],[90.9,17.1],[92.6,17.5],[94.2,17.6],[95.9,17.5],[97.1,17.7]];

const seriesByPanel = [
  [py1Measured, py1Regression, py1FF, py1Direction],
  [py2Measured, py2Regression, py2FF, py2Direction],
  [pa3Measured, pa3Regression, pa3FF, pa3Direction],
  [pa4Measured, pa4Regression, pa4FF, pa4Direction],
  [pa5Measured, pa5Regression, pa5FF, pa5Direction],
  [po6Measured, po6Regression, po6FF, po6Direction],
  [pa7Measured, pa7Regression, pa7FF, pa7Direction],
  [pa8Measured, pa8Regression, pa8FF, pa8Direction]
];

// ---- layout & styles ----

const width = 1003, height = 1477;
const colX = [82.5, 541.5];
const rowY = [91.7, 428, 772, 1109];
const plotW = 414.5, plotH = 297.5;
// title: [distance of text end from right frame, baseline below top frame]
const titlePos = [[20, 22], [23, 20], [15, 22], [16, 23], [19, 19], [3, 16], [3, 23], [1, 22]];

const styles = [
  { stroke: "#000000", width: 2.4, dash: null, cap: "butt" },
  { stroke: "#ff00ff", width: 3.8, dash: "0.01 5.6", cap: "round" },
  { stroke: "#ff2b2b", width: 2.4, dash: "9 5", cap: "butt" },
  { stroke: "#0000ff", width: 2.4, dash: "10 3 2 3 2 3", cap: "butt" }
];
const legendPos = [
  { x1: 83, x2: 123, y: 18, tx: 131, ty: 19 },
  { x1: 290, x2: 333, y: 16, tx: 340, ty: 16 },
  { x1: 510, x2: 560, y: 17, tx: 578, ty: 17 },
  { x1: 720, x2: 818, y: 18, tx: 848, ty: 18 }
];

const dateParse = d3.utcParse("%m/%d/%Y");
const start = dateParse("2/18/2016");
const tickDates = tickLabels.map(t => dateParse(t + "/2016"));
const toDate = day => new Date(start.getTime() + day * 864e5);

const svg = d3.select("#chart").append("svg")
  .attr("width", width)
  .attr("height", height)
  .attr("viewBox", [0, 0, width, height]);

svg.append("rect").attr("width", width).attr("height", height).attr("fill", "#fff");

const x = d3.scaleUtc()
  .domain([start, d3.utcDay.offset(start, 102)])
  .range([0, plotW]);

panelNames.forEach((name, i) => {
  const col = i % 2, row = Math.floor(i / 2);
  const g = svg.append("g").attr("transform", `translate(${colX[col]},${rowY[row]})`);
  const [lo, hi] = yDomains[i];
  const y = d3.scaleLinear().domain([lo, hi]).range([plotH, 0]);

  g.append("rect")
    .attr("width", plotW).attr("height", plotH)
    .attr("fill", "none").attr("stroke", "#3a3a3a").attr("stroke-width", 1);

  const xAxis = g.append("g")
    .attr("transform", `translate(0,${plotH})`)
    .call(d3.axisBottom(x).tickValues(tickDates).tickFormat(d3.utcFormat("%-m/%-d"))
      .tickSize(5).tickSizeOuter(0).tickPadding(10));
  xAxis.attr("font-size", 16).attr("font-family", null);
  xAxis.selectAll("path, line").attr("stroke-width", 1.2);

  const yAxis = g.append("g")
    .call(d3.axisLeft(y).tickValues(d3.range(lo, hi + 0.1, 5))
      .tickSize(4).tickSizeOuter(0).tickPadding(7));
  yAxis.attr("font-size", 16).attr("font-family", null);
  yAxis.selectAll("path, line").attr("stroke-width", 1.2);

  const line = d3.line()
    .defined(d => d !== null)
    .x(d => x(toDate(d[0])))
    .y(d => y(d[1]));

  seriesByPanel[i].forEach((data, k) => {
    const s = styles[k];
    g.append("path")
      .datum(data)
      .attr("fill", "none")
      .attr("stroke", s.stroke)
      .attr("stroke-width", s.width)
      .attr("stroke-dasharray", s.dash)
      .attr("stroke-linecap", s.cap)
      .attr("stroke-linejoin", "round")
      .attr("d", line);
  });

  g.append("text")
    .attr("x", plotW - titlePos[i][0])
    .attr("y", titlePos[i][1])
    .attr("text-anchor", "end")
    .attr("font-size", 16.5)
    .text(name);
});

// legend
legendLabels.forEach((lines, k) => {
  const p = legendPos[k], s = styles[k];
  svg.append("line")
    .attr("x1", p.x1).attr("x2", p.x2).attr("y1", p.y).attr("y2", p.y)
    .attr("stroke", s.stroke)
    .attr("stroke-width", s.width)
    .attr("stroke-dasharray", s.dash)
    .attr("stroke-linecap", s.cap);
  const t = svg.append("text").attr("font-size", 17);
  lines.forEach((str, j) => {
    t.append("tspan")
      .attr("x", p.tx)
      .attr("y", p.ty + j * 20)
      .attr("dy", "0.35em")
      .text(str);
  });
});

// axis titles
svg.append("text")
  .attr("transform", "translate(30,757) rotate(-90)")
  .attr("text-anchor", "middle")
  .attr("font-size", 20)
  .text("Moisture content (%)");

svg.append("text")
  .attr("x", 519)
  .attr("y", 1474)
  .attr("text-anchor", "middle")
  .attr("font-size", 20)
  .text("Date");

</script>
</body>
</html>
